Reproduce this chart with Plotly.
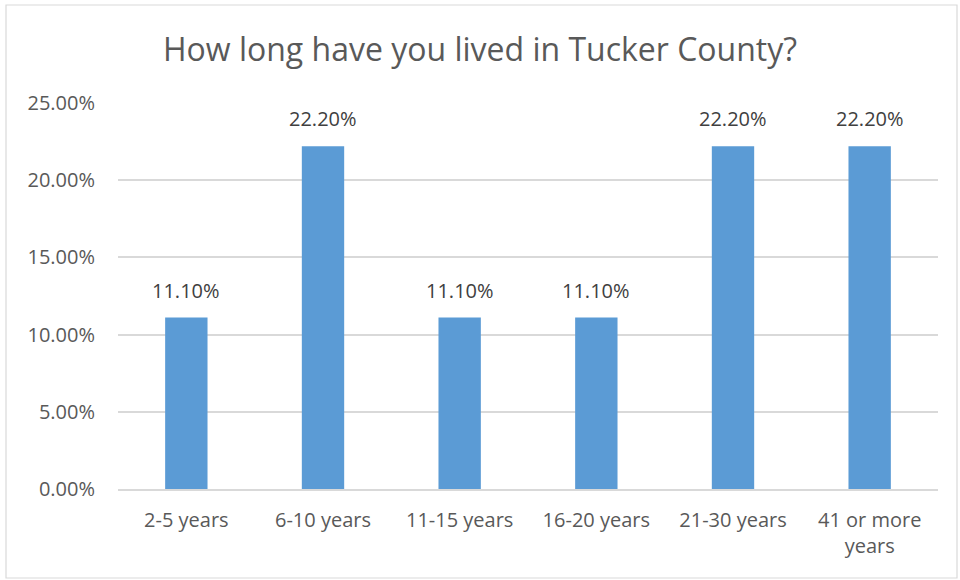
import plotly.graph_objects as go

# Survey responses: length of residence
categories = ["2-5 years", "6-10 years", "11-15 years", "16-20 years",
              "21-30 years", "41 or more<br>years"]
shares = [0.111, 0.222, 0.111, 0.111, 0.222, 0.222]
value_labels = ["11.10%", "22.20%", "11.10%", "11.10%", "22.20%", "22.20%"]
y_ticks = [0, 0.05, 0.10, 0.15, 0.20, 0.25]
y_tick_labels = ["0.00%", "5.00%", "10.00%", "15.00%", "20.00%", "25.00%"]

W, H = 960, 580
left, right, top, bottom = 118, 938, 103, 489
pw, ph = right - left, bottom - top

font_family = "Open Sans, Noto Sans, sans-serif"

fig = go.Figure(go.Bar(
    x=categories,
    y=shares,
    marker=dict(color="#5B9BD5", line=dict(width=0)),
    width=0.31,
    hoverinfo="skip",
))

# Value labels sitting above each bar
for cat, val, lab in zip(categories, shares, value_labels):
    fig.add_annotation(
        x=cat, y=val, text=lab, showarrow=False,
        xref="x", yref="y", yanchor="bottom", yshift=12,
        font=dict(family=font_family, size=20, color="#404040"),
    )

fig.update_layout(
    width=W, height=H,
    margin=dict(l=left, r=W - right, t=top, b=H - bottom),
    paper_bgcolor="white",
    plot_bgcolor="white",
    showlegend=False,
    title=dict(
        text="How long have you lived in Tucker County?",
        x=0.5, xanchor="center",
        y=1 - 50 / H, yanchor="middle",
        font=dict(family=font_family, size=32, color="#595959"),
    ),
    xaxis=dict(
        showgrid=False,
        showline=True, linecolor="#D9D9D9", linewidth=1.5,
        ticks="", tickfont=dict(family=font_family, size=20, color="#595959"),
        ticklabelstandoff=12,
    ),
    yaxis=dict(
        range=[0, 0.25],
        tickvals=y_ticks, ticktext=y_tick_labels,
        showgrid=True, gridcolor="#D9D9D9", gridwidth=1.5,
        zeroline=False, showline=False,
        ticks="", tickfont=dict(family=font_family, size=20, color="#595959"),
        ticklabelstandoff=22,
    ),
)

# Light frame around the whole chart area
fig.add_shape(
    type="rect", xref="paper", yref="paper",
    x0=(6 - left) / pw, x1=(957 - left) / pw,
    y0=(bottom - 578) / ph, y1=(bottom - 5) / ph,
    line=dict(color="#D9D9D9", width=1.2),
    fillcolor="rgba(0,0,0,0)", layer="below",
)

fig.write_html("out.html")
